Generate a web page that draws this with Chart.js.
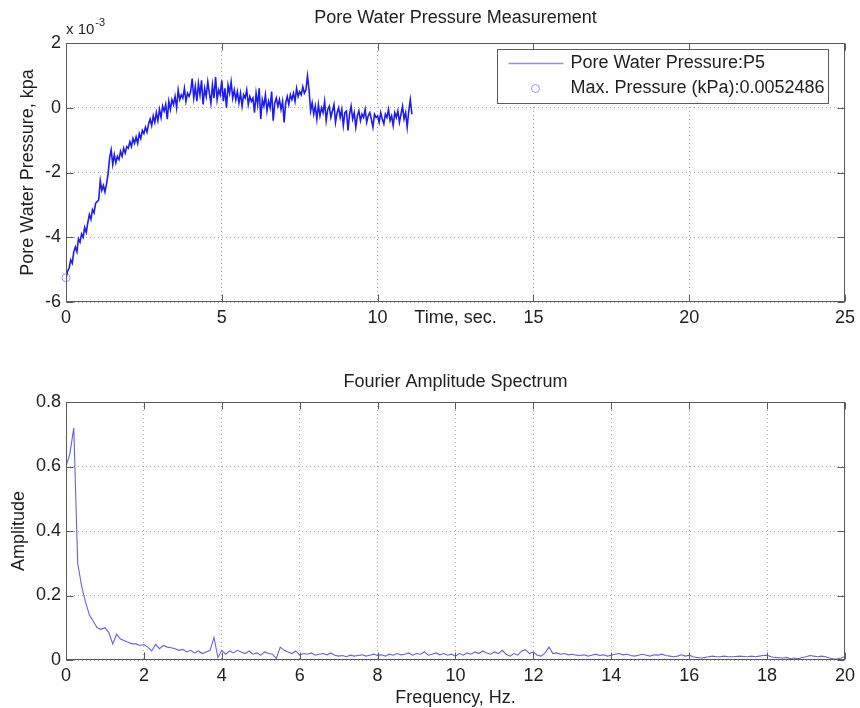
<!DOCTYPE html>
<html>
<head>
<meta charset="utf-8">
<script src="https://cdn.jsdelivr.net/npm/chart.js@4/dist/chart.umd.min.js"></script>
<style>
  html, body { margin: 0; padding: 0; background: #fff; }
  #wrap { position: relative; width: 860px; height: 708px; }
  canvas { position: absolute; left: 0; }
</style>
</head>
<body>
<div id="wrap">
  <canvas id="pressure" width="860" height="360" style="top:0px"></canvas>
  <canvas id="spectrum" width="860" height="348" style="top:360px"></canvas>
</div>
<script>
// ---- Pore water pressure record (values in 10^-3 kPa), sampled every 0.05 s ----
const sampleInterval = 0.05;
const pressure = [
  -5.25, -5.05, -4.95, -4.70, -4.80, -4.45, -4.30, -4.45, -4.05, -4.15, -3.90, -4.00, -3.70, -3.85, -3.55, -3.30, -3.45, -3.15, -3.25, -2.95,
  -2.90, -2.85, -2.25, -2.55, -2.40, -2.60, -2.35, -2.05, -1.55, -1.30, -1.75, -1.45, -1.70, -1.50, -1.60, -1.35, -1.50, -1.25, -1.40, -1.20,
  -1.25, -1.05, -1.20, -0.95, -1.10, -0.90, -1.10, -0.80, -0.95, -0.70, -0.80, -0.60, -0.75, -0.50, -0.35, -0.55, -0.25, -0.45, -0.15, -0.40,
  -0.05, -0.30, 0.05, -0.10, 0.10, -0.35, 0.20, -0.05, 0.25, 0.10, 0.35, 0.00, 0.55, 0.25, 0.40, 0.30, 0.60, 0.20, 0.45, 0.35,
  0.50, 0.90, 0.30, 0.65, 0.20, 0.75, 0.40, 0.85, 0.10, 0.60, 0.35, 0.80, 0.45, 0.15, 0.70, 0.30, 0.95, 0.25, 0.55, 0.40,
  0.85, 0.20, 0.60, 0.00, 0.70, 0.45, 0.80, 0.30, 0.55, 0.25, 0.50, 0.15, 0.45, 0.05, 0.40, 0.30, 0.55, 0.10, 0.35, 0.20,
  0.30, -0.15, 0.45, 0.10, 0.60, -0.35, 0.25, 0.05, 0.40, -0.10, 0.20, 0.00, 0.50, -0.40, 0.15, 0.30, 0.05, 0.25, -0.05, 0.20,
  -0.45, 0.15, 0.35, 0.10, 0.40, 0.25, 0.45, 0.20, 0.60, 0.35, 0.50, 0.40, 0.65, 0.45, 0.55, 0.98, 0.55, -0.10, 0.15, -0.20,
  0.05, -0.35, 0.10, -0.25, 0.00, -0.15, 0.20, -0.40, -0.05, 0.05, -0.30, -0.10, 0.10, -0.45, -0.15, 0.00, -0.30, -0.05, -0.55, -0.15,
  -0.10, -0.70, -0.20, 0.05, -0.35, -0.15, -0.60, -0.25, -0.10, -0.40, -0.20, -0.30, -0.05, -0.45, -0.25, -0.15, -0.35, -0.60, -0.20, -0.30,
  -0.25, -0.45, -0.15, -0.35, -0.50, -0.20, -0.30, -0.05, -0.40, -0.25, -0.55, -0.15, -0.30, -0.10, -0.45, -0.20, 0.05, -0.35, -0.15, -0.60,
  -0.10, 0.25, -0.20
];
const maxPressureKpa = 0.0052486;   // absolute peak, reached at the start of the record
const maxPressureTime = 0;

// ---- Fourier amplitude spectrum, 0.1 Hz bins from 0 to 20 Hz ----
const freqStep = 0.1;
const amplitude = [
  0.60, 0.64, 0.72, 0.30, 0.23, 0.18, 0.14, 0.12, 0.10, 0.095,
  0.10, 0.085, 0.05, 0.08, 0.065, 0.06, 0.055, 0.05, 0.05, 0.045,
  0.048, 0.04, 0.028, 0.048, 0.035, 0.045, 0.04, 0.038, 0.035, 0.03,
  0.033, 0.025, 0.03, 0.022, 0.028, 0.02, 0.025, 0.03, 0.07, 0.008,
  0.03, 0.018, 0.028, 0.022, 0.03, 0.025, 0.02, 0.028, 0.018, 0.022,
  0.015, 0.025, 0.02, 0.018, 0.005, 0.04, 0.03, 0.025, 0.02, 0.028,
  0.015, 0.02, 0.018, 0.022, 0.015, 0.018, 0.02, 0.016, 0.022, 0.015,
  0.012, 0.014, 0.01, 0.015, 0.012, 0.014, 0.016, 0.012, 0.015, 0.018,
  0.014, 0.016, 0.012, 0.018, 0.015, 0.02, 0.016, 0.018, 0.022, 0.015,
  0.02, 0.018, 0.025, 0.015, 0.018, 0.022, 0.016, 0.02, 0.015, 0.018,
  0.012, 0.02, 0.015, 0.022, 0.018, 0.025, 0.02, 0.028, 0.022, 0.018,
  0.025, 0.02, 0.03, 0.018, 0.012, 0.02, 0.015, 0.028, 0.032, 0.02,
  0.025, 0.015, 0.012, 0.022, 0.04, 0.02, 0.022, 0.018, 0.02, 0.016,
  0.018, 0.015, 0.014, 0.016, 0.012, 0.015, 0.018, 0.014, 0.016, 0.012,
  0.015, 0.018, 0.02, 0.016, 0.018, 0.014, 0.012, 0.015, 0.018, 0.015,
  0.012, 0.016, 0.015, 0.018, 0.014, 0.012, 0.01, 0.012, 0.016, 0.012,
  0.015, 0.01, 0.008, 0.006, 0.008, 0.01, 0.012, 0.01, 0.01, 0.012,
  0.01, 0.01, 0.011, 0.012, 0.011, 0.01, 0.012, 0.01, 0.012, 0.014,
  0.015, 0.01, 0.008, 0.007, 0.006, 0.008, 0.004, 0.006, 0.004, 0.008,
  0.01, 0.014, 0.012, 0.01, 0.012, 0.01, 0.006, 0.004, 0.003, 0.006,
  0.01
];

// ---- Tick positions ----
const timeTicks = [0, 5, 10, 15, 20, 25];
const pressureTicks = [-6, -4, -2, 0, 2];
const freqTicks = [0, 2, 4, 6, 8, 10, 12, 14, 16, 18, 20];
const ampTicks = [0, 0.2, 0.4, 0.6, 0.8];

// ---- Shared styling ----
const FONT = '"Liberation Sans", Arial, Helvetica, sans-serif';
const FONT_SIZE = 18;
const TEXT = '#1e1e1e';
const FRAME = '#5a5a5a';
const GRID = 'rgba(140,140,140,0.75)';
const TICK_LEN = 7;

Chart.defaults.font.family = FONT;
Chart.defaults.font.size = FONT_SIZE;
Chart.defaults.color = TEXT;

// Axes box, inward tick marks, titles, exponent and legend
const axesDecor = {
  id: 'axesDecor',
  afterDraw(chart, args, o) {
    const { ctx, chartArea: a, scales } = chart;
    const L = Math.round(a.left) + 0.5, R = Math.round(a.right) - 0.5;
    const T = Math.round(a.top) + 0.5, B = Math.round(a.bottom) - 0.5;
    ctx.save();
    ctx.strokeStyle = FRAME;
    ctx.lineWidth = 1;
    ctx.setLineDash([]);
    ctx.strokeRect(L, T, R - L, B - T);
    ctx.beginPath();
    scales.x.ticks.forEach(t => {
      const px = Math.round(scales.x.getPixelForValue(t.value)) + 0.5;
      ctx.moveTo(px, B); ctx.lineTo(px, B - TICK_LEN);
      ctx.moveTo(px, T); ctx.lineTo(px, T + TICK_LEN);
    });
    scales.y.ticks.forEach(t => {
      const py = Math.round(scales.y.getPixelForValue(t.value)) + 0.5;
      ctx.moveTo(L, py); ctx.lineTo(L + TICK_LEN, py);
      ctx.moveTo(R, py); ctx.lineTo(R - TICK_LEN, py);
    });
    ctx.stroke();

    ctx.fillStyle = TEXT;
    ctx.font = FONT_SIZE + 'px ' + FONT;
    ctx.textAlign = 'center';
    ctx.textBaseline = 'middle';
    const cx = (a.left + a.right) / 2;
    ctx.fillText(o.title, cx, o.titleY);
    ctx.fillText(o.xTitle, o.xTitleX ?? cx, o.xTitleY);
    ctx.save();
    ctx.translate(o.yTitleX, (a.top + a.bottom) / 2);
    ctx.rotate(-Math.PI / 2);
    ctx.fillText(o.yTitle, 0, 0);
    ctx.restore();

    if (o.exponent) {
      ctx.textAlign = 'left';
      ctx.font = '15px ' + FONT;
      ctx.fillText('x 10', a.left, o.exponent.y);
      const w = ctx.measureText('x 10').width;
      ctx.font = '11px ' + FONT;
      ctx.fillText(o.exponent.power, a.left + w + 1, o.exponent.y - 7);
    }

    if (o.legend) {
      const lg = o.legend;
      const left = Math.round(a.right - lg.rightGap - lg.width) + 0.5;
      const top = Math.round(a.top + lg.topGap) + 0.5;
      ctx.fillStyle = '#ffffff';
      ctx.fillRect(left, top, lg.width, lg.height);
      ctx.strokeStyle = FRAME;
      ctx.strokeRect(left, top, lg.width, lg.height);
      const ds = chart.data.datasets;
      const row1 = top + 14, row2 = top + 39;
      ctx.strokeStyle = '#8c8cee';
      ctx.lineWidth = 1.5;
      ctx.beginPath();
      ctx.moveTo(left + 11, row1); ctx.lineTo(left + 66, row1);
      ctx.stroke();
      ctx.strokeStyle = '#9a9ae6';
      ctx.lineWidth = 1;
      ctx.beginPath();
      ctx.arc(left + 38, row2, 4, 0, Math.PI * 2);
      ctx.stroke();
      ctx.fillStyle = TEXT;
      ctx.font = FONT_SIZE + 'px ' + FONT;
      ctx.textAlign = 'left';
      ctx.fillText(ds[0].label, left + 73, row1);
      ctx.fillText(ds[1].label, left + 73, row2);
    }
    ctx.restore();
  }
};

function fixedScale(list, min, max, fmt, fitSize, isX) {
  return {
    type: 'linear',
    min, max,
    afterBuildTicks: s => { s.ticks = list.map(v => ({ value: v })); },
    afterFit: s => { if (isX) s.height = fitSize; else s.width = fitSize; },
    ticks: { padding: 5, color: TEXT, callback: fmt, autoSkip: false, maxRotation: 0 },
    grid: { color: GRID, drawTicks: false, lineWidth: 1 },
    border: { display: false, dash: [1, 3] }
  };
}

const pressurePoints = pressure.map((v, i) => ({ x: i * sampleInterval, y: v }));
const spectrumPoints = amplitude.map((v, i) => ({ x: i * freqStep, y: v }));

new Chart(document.getElementById('pressure'), {
  type: 'line',
  data: {
    datasets: [
      {
        label: 'Pore Water Pressure:P5',
        data: pressurePoints,
        borderColor: '#1c1cf2',
        borderWidth: 1.6,
        pointRadius: 0,
        tension: 0
      },
      {
        label: 'Max. Pressure (kPa):' + maxPressureKpa,
        data: [{ x: maxPressureTime, y: -maxPressureKpa * 1000 }],
        showLine: false,
        clip: false,
        pointRadius: 4,
        pointStyle: 'circle',
        borderColor: '#9a9ae6',
        backgroundColor: 'rgba(0,0,0,0)',
        borderWidth: 1
      }
    ]
  },
  options: {
    responsive: false,
    animation: false,
    devicePixelRatio: 1,
    layout: { padding: { top: 43, right: 13, bottom: 0, left: 0 } },
    plugins: {
      legend: { display: false },
      tooltip: { enabled: false },
      title: { display: false },
      axesDecor: {
        title: 'Pore Water Pressure Measurement', titleY: 18,
        xTitle: 'Time, sec.', xTitleY: 318,
        yTitle: 'Pore Water Pressure, kpa', yTitleX: 28,
        exponent: { power: '-3', y: 30 },
        legend: { width: 331, height: 54, rightGap: 17, topGap: 6 }
      }
    },
    scales: {
      x: fixedScale(timeTicks, 0, 25, v => String(v), 58, true),
      y: fixedScale(pressureTicks, -6, 2, v => String(v), 66, false)
    }
  },
  plugins: [axesDecor]
});

new Chart(document.getElementById('spectrum'), {
  type: 'line',
  data: {
    datasets: [
      {
        label: 'Amplitude',
        data: spectrumPoints,
        borderColor: 'rgba(70,70,225,0.85)',
        borderWidth: 1.1,
        pointRadius: 0,
        tension: 0
      }
    ]
  },
  options: {
    responsive: false,
    animation: false,
    devicePixelRatio: 1,
    layout: { padding: { top: 42, right: 13, bottom: 0, left: 0 } },
    plugins: {
      legend: { display: false },
      tooltip: { enabled: false },
      title: { display: false },
      axesDecor: {
        title: 'Fourier Amplitude Spectrum', titleY: 22,
        xTitle: 'Frequency, Hz.', xTitleY: 338,
        yTitle: 'Amplitude', yTitleX: 19
      }
    },
    scales: {
      x: fixedScale(freqTicks, 0, 20, v => String(v), 48, true),
      y: fixedScale(ampTicks, 0, 0.8, v => String(v), 66, false)
    }
  },
  plugins: [axesDecor]
});
</script>
</body>
</html>
